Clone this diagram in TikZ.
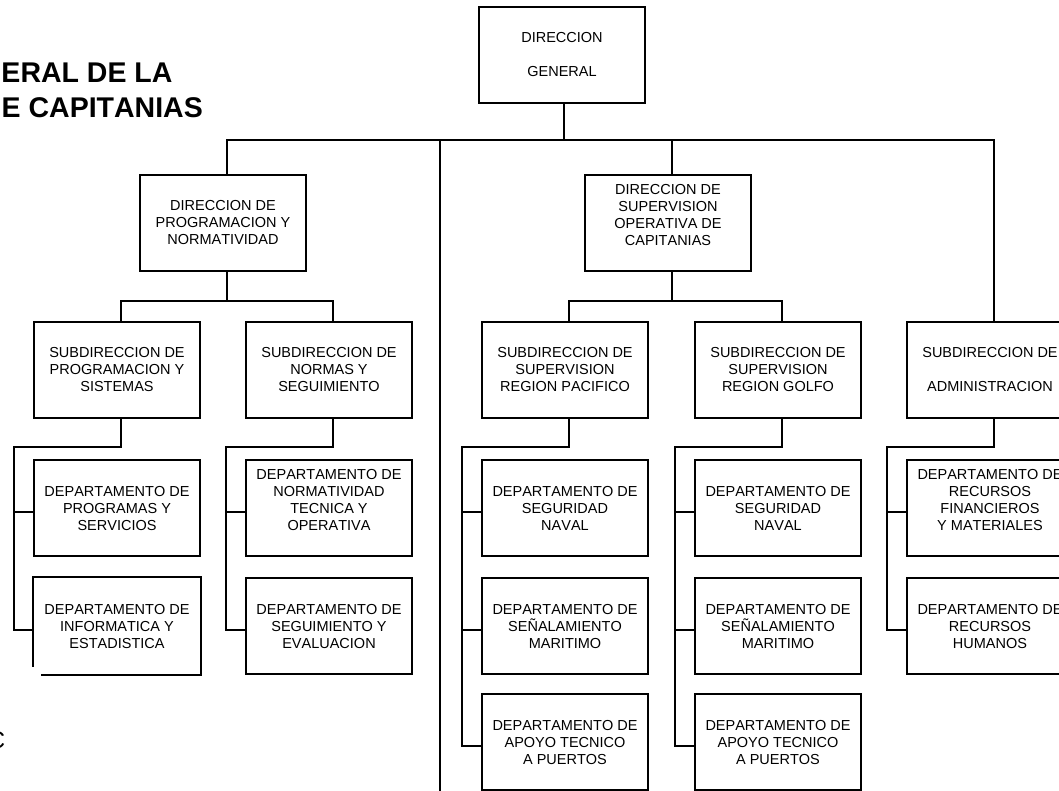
\documentclass[tikz,border=0pt]{standalone}
\usepackage{fontspec}
\setmainfont{Liberation Sans}[Kerning=Off]
\usetikzlibrary{calc}
\begin{document}
\begin{tikzpicture}[x=1pt,y=-1pt,
  unit/.style={draw, line width=2pt, minimum width=166pt, minimum height=96pt,
    inner sep=0pt, align=center, font=\fontsize{14.5}{17}\selectfont},
  link/.style={line width=2pt},
  heading/.style={font=\fontsize{28.5}{34}\selectfont\bfseries, inner sep=0pt}]
\useasboundingbox (0,0) rectangle (1059,790);
\clip (0,0) rectangle (1059,790);

% heading fragments
\node[heading, anchor=base east] (t1) at (172.7,82.5) {ERAL DE LA};
\node[heading, anchor=base east] (t2) at (203,117.5) {E CAPITANIAS};
\node[font=\fontsize{24}{28}\selectfont, inner sep=0pt, anchor=base east] (tc) at (5.5,748) {C};

% top level
\node[unit] (dg) at (562,55) {DIRECCION\\\mbox{}\\GENERAL};

% direcciones
\node[unit] (dpn) at (223,223) {DIRECCION DE\\PROGRAMACION Y\\NORMATIVIDAD};
\node[unit] (dso) at (668,223) {DIRECCION DE\\SUPERVISION\\OPERATIVA DE\\CAPITANIAS\\\mbox{}};

% subdirecciones
\node[unit] (sps) at (117,370) {SUBDIRECCION DE\\PROGRAMACION Y\\SISTEMAS};
\node[unit] (sns) at (329,370) {SUBDIRECCION DE\\NORMAS Y\\SEGUIMIENTO};
\node[unit] (srp) at (565,370) {SUBDIRECCION DE\\SUPERVISION\\REGION PACIFICO};
\node[unit] (srg) at (778,370) {SUBDIRECCION DE\\SUPERVISION\\REGION GOLFO};
\node[unit] (sad) at (990,370) {SUBDIRECCION DE\\\mbox{}\\ADMINISTRACION};

% departamentos
\node[unit] (dps) at (117,508) {DEPARTAMENTO DE\\PROGRAMAS Y\\SERVICIOS};
\node[unit, draw=none] (die) at (117,626) {DEPARTAMENTO DE\\INFORMATICA Y\\ESTADISTICA};
\draw[link] ([xshift=8pt]die.south west) -| (die.north east) -| ([yshift=8pt]die.south west);

\node[unit] (dnt) at (329,508) {DEPARTAMENTO DE\\NORMATIVIDAD\\TECNICA Y\\OPERATIVA\\\mbox{}};
\node[unit] (dse) at (329,626) {DEPARTAMENTO DE\\SEGUIMIENTO Y\\EVALUACION};

\node[unit] (psn) at (565,508) {DEPARTAMENTO DE\\SEGURIDAD\\NAVAL};
\node[unit] (psm) at (565,626) {DEPARTAMENTO DE\\SEÑALAMIENTO\\MARITIMO};
\node[unit] (pap) at (565,742) {DEPARTAMENTO DE\\APOYO TECNICO\\A PUERTOS};

\node[unit] (gsn) at (778,508) {DEPARTAMENTO DE\\SEGURIDAD\\NAVAL};
\node[unit] (gsm) at (778,626) {DEPARTAMENTO DE\\SEÑALAMIENTO\\MARITIMO};
\node[unit] (gap) at (778,742) {DEPARTAMENTO DE\\APOYO TECNICO\\A PUERTOS};

\node[unit] (arf) at (990,508) {DEPARTAMENTO DE\\RECURSOS\\FINANCIEROS\\Y MATERIALES\\\mbox{}};
\node[unit] (arh) at (990,626) {DEPARTAMENTO DE\\RECURSOS\\HUMANOS};

% connector anchor points
\coordinate (busA) at (0,140);
\coordinate (busB) at (0,301);
\coordinate (busC) at (0,447);
\coordinate (dg-b) at ([xshift=2pt]dg.south);
\foreach \n in {dpn,dso,sps,sns,srp,srg,sad} {
  \coordinate (\n-t) at ([xshift=4pt]\n.north);
  \coordinate (\n-b) at ([xshift=4pt]\n.south);
  \coordinate (\n-l) at ([xshift=-19pt]\n.west);
}
\foreach \n in {dps,die,dnt,dse,psn,psm,pap,gsn,gsm,gap,arf,arh}
  \coordinate (\n-w) at ([yshift=-4pt]\n.west);
\coordinate (cap) at (440,800);

% general level
\draw[link] (dg-b) -- (dg-b |- busA);
\draw[link] (dpn-t) -- (dpn-t |- busA) -- (sad-t |- busA) -- (sad-t);
\draw[link] (dso-t) -- (dso-t |- busA);
\draw[link] (cap |- busA) -- (cap);

% direcciones to subdirecciones
\draw[link] (dpn-b) -- (dpn-b |- busB);
\draw[link] (sps-t) -- (sps-t |- busB) -- (sns-t |- busB) -- (sns-t);
\draw[link] (dso-b) -- (dso-b |- busB);
\draw[link] (srp-t) -- (srp-t |- busB) -- (srg-t |- busB) -- (srg-t);

% subdirecciones to departamentos
\draw[link] (sps-b) -- (sps-b |- busC) -- (sps-l |- busC) -- (sps-l |- die-w) -- (die-w);
\draw[link] (sps-l |- dps-w) -- (dps-w);

\draw[link] (sns-b) -- (sns-b |- busC) -- (sns-l |- busC) -- (sns-l |- dse-w) -- (dse-w);
\draw[link] (sns-l |- dnt-w) -- (dnt-w);

\draw[link] (srp-b) -- (srp-b |- busC) -- (srp-l |- busC) -- (srp-l |- pap-w) -- (pap-w);
\draw[link] (srp-l |- psn-w) -- (psn-w);
\draw[link] (srp-l |- psm-w) -- (psm-w);

\draw[link] (srg-b) -- (srg-b |- busC) -- (srg-l |- busC) -- (srg-l |- gap-w) -- (gap-w);
\draw[link] (srg-l |- gsn-w) -- (gsn-w);
\draw[link] (srg-l |- gsm-w) -- (gsm-w);

\draw[link] (sad-b) -- (sad-b |- busC) -- (sad-l |- busC) -- (sad-l |- arh-w) -- (arh-w);
\draw[link] (sad-l |- arf-w) -- (arf-w);
\end{tikzpicture}
\end{document}
